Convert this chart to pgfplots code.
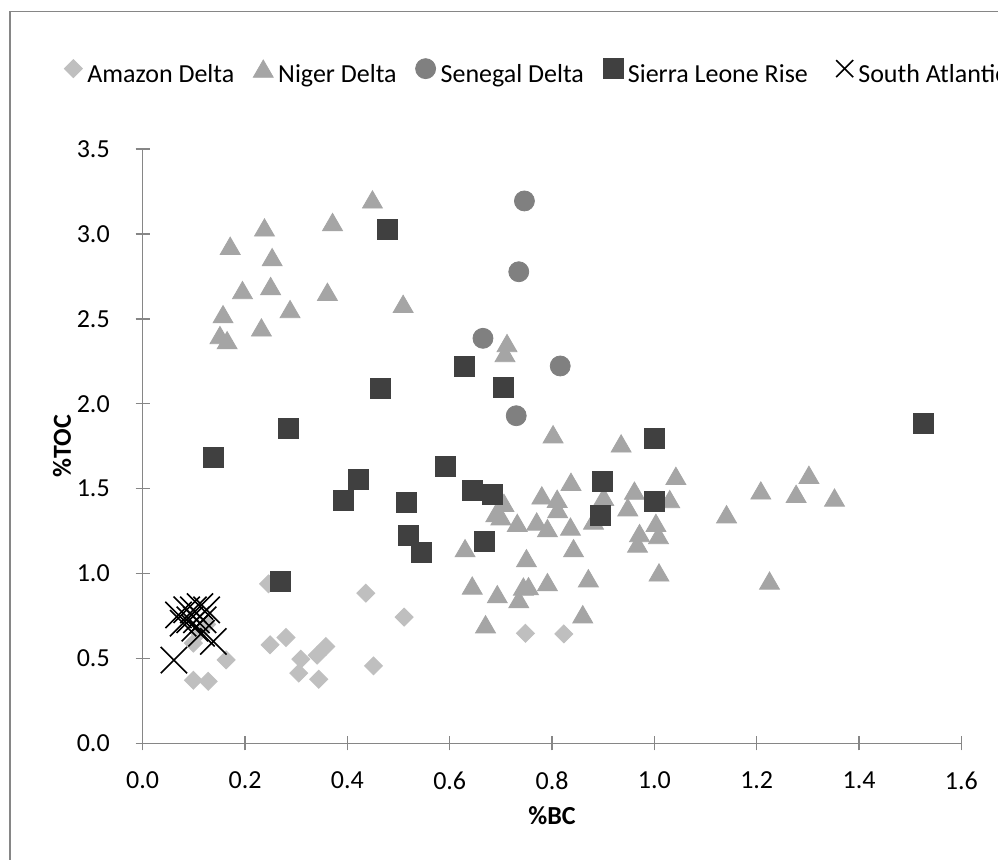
\documentclass[border=0pt]{standalone}
\usepackage{pgfplots}
\pgfplotsset{compat=1.18}
\usepackage{fontspec}
\setmainfont{Carlito}
\definecolor{amz}{HTML}{BFBFBF}
\definecolor{nig}{HTML}{A5A5A5}
\definecolor{sen}{HTML}{808080}
\definecolor{sie}{HTML}{404040}
\definecolor{axgray}{HTML}{868686}
\begin{document}
\begin{tikzpicture}
\useasboundingbox (0,0) rectangle (499pt,430pt);
\clip (0,0) rectangle (499pt,430pt);
\fill[white] (0,0) rectangle (499pt,430pt);
\draw[line width=0.75pt, color=axgray] (5pt,-20pt) -- (5pt,424.15pt) -- (540pt,424.15pt);
\begin{axis}[
  at={(71.35pt,58.35pt)}, anchor=south west,
  scale only axis, width=409.35pt, height=297.15pt,
  xmin=0, xmax=1.6, ymin=0, ymax=3.5,
  clip=false,
  axis lines=left,
  axis line style={-, line width=0.75pt, color=axgray},
  every tick/.style={line width=0.75pt, color=axgray},
  tick align=center, major tick length=7pt,
  xtick={0,0.2,0.4,0.6,0.8,1.0,1.2,1.4,1.6},
  ytick={0,0.5,1.0,1.5,2.0,2.5,3.0,3.5},
  /pgf/number format/fixed,
  /pgf/number format/fixed zerofill,
  /pgf/number format/precision=1,
  /pgf/number format/assume math mode=true,
  tick label style={font=\fontsize{13}{15}\selectfont, text=black},
  xticklabel style={anchor=north, inner sep=0pt, yshift=-10.5pt},
  yticklabel style={anchor=east, inner sep=0pt, xshift=-12.8pt},
  xlabel={\textbf{\%BC}},
  ylabel={\textbf{\%TOC}},
  xlabel style={font=\fontsize{13}{15}\selectfont, at={(axis description cs:0.5,-0.1225)}, anchor=center},
  ylabel style={font=\fontsize{13}{15}\selectfont, at={(axis description cs:-0.0986,0.5)}, anchor=center},
  legend columns=-1,
  legend cell align=left,
  legend image code/.code={\draw[mark repeat=1,mark phase=1] plot coordinates {(0pt,0.3em)};},
  legend style={draw=none, fill=none, at={(-0.1035,1.128)}, anchor=west,
    font=\fontsize{13}{15}\selectfont,
    nodes={inner xsep=0pt, inner ysep=1pt},
    /tikz/every odd column/.append style={column sep=2.5pt},
    /tikz/every even column/.append style={column sep=9.5pt}},
]
\addplot[only marks, mark=square*, mark size=3.18pt, mark options={rotate=45, fill=amz, draw=amz}] coordinates {
(0.246,0.939)(0.436,0.884)(0.511,0.743)(0.451,0.456)(0.249,0.580)(0.280,0.623)
(0.309,0.495)(0.305,0.413)(0.341,0.519)(0.358,0.570)(0.344,0.377)(0.163,0.491)
(0.099,0.371)(0.128,0.365)(0.099,0.590)(0.748,0.648)(0.823,0.644)(0.110,0.650)(0.125,0.700)
};
\addlegendentry{Amazon Delta}
\addplot[only marks, mark=triangle*, mark size=5.75pt, mark options={fill=nig, draw=nig, yshift=-1.44pt}] coordinates {
(0.449,3.203)(0.371,3.070)(0.238,3.038)(0.171,2.930)(0.253,2.863)(0.195,2.669)
(0.250,2.693)(0.361,2.659)(0.288,2.557)(0.509,2.588)(0.157,2.527)(0.232,2.449)
(0.151,2.404)(0.165,2.374)
(0.712,2.357)(0.708,2.298)(0.802,1.820)(0.935,1.766)(0.837,1.540)(1.042,1.575)
(0.780,1.460)(0.810,1.440)(0.706,1.416)(0.961,1.488)(1.030,1.438)(0.901,1.452)
(0.948,1.390)(0.811,1.379)(0.690,1.355)(0.700,1.337)(0.732,1.298)(0.770,1.306)
(0.791,1.267)(0.836,1.276)(0.881,1.312)(1.003,1.298)(0.971,1.238)(1.008,1.226)
(0.967,1.176)(0.630,1.149)(0.842,1.149)(0.750,1.090)(1.009,1.006)(0.644,0.929)
(0.693,0.878)(0.735,0.849)(0.744,0.923)(0.754,0.925)(0.791,0.949)(0.871,0.972)
(0.670,0.701)(0.860,0.760)(1.141,1.349)(1.208,1.489)(1.302,1.581)(1.277,1.469)
(1.352,1.447)(1.225,0.958)
};
\addlegendentry{Niger Delta}
\addplot[only marks, mark=*, mark size=5pt, mark options={fill=sen, draw=sen}] coordinates {
(0.746,3.194)(0.735,2.777)(0.665,2.385)(0.816,2.222)(0.730,1.929)
};
\addlegendentry{Senegal Delta}
\addplot[only marks, mark=square*, mark size=5pt, mark options={fill=sie, draw=sie}] coordinates {
(0.478,3.028)(0.464,2.092)(0.628,2.219)(0.704,2.095)(0.285,1.857)(0.138,1.686)
(0.591,1.633)(0.422,1.556)(0.393,1.430)(0.515,1.420)(0.645,1.487)(0.684,1.464)
(0.520,1.223)(0.545,1.122)(0.667,1.191)(0.269,0.953)(0.898,1.540)(1.001,1.422)
(0.895,1.344)(1.001,1.798)(1.525,1.886)
};
\addlegendentry{Sierra Leone Rise}
\addplot[only marks, mark=x, mark size=9.3pt, mark options={draw=black, line width=0.8pt},
  legend image code/.code={\path[draw=none,fill=none] (-8.9pt,0.3em) rectangle (4.3pt,0.3em); \draw[mark size=6pt] plot coordinates {(0pt,0.3em)};}] coordinates {
(0.061,0.490)(0.070,0.756)(0.086,0.786)(0.099,0.786)(0.112,0.805)(0.125,0.786)
(0.092,0.727)(0.105,0.727)(0.118,0.727)(0.102,0.678)(0.115,0.648)(0.138,0.600)(0.079,0.707)
};
\addlegendentry{South Atlantic}
\end{axis}
\end{tikzpicture}
\end{document}
